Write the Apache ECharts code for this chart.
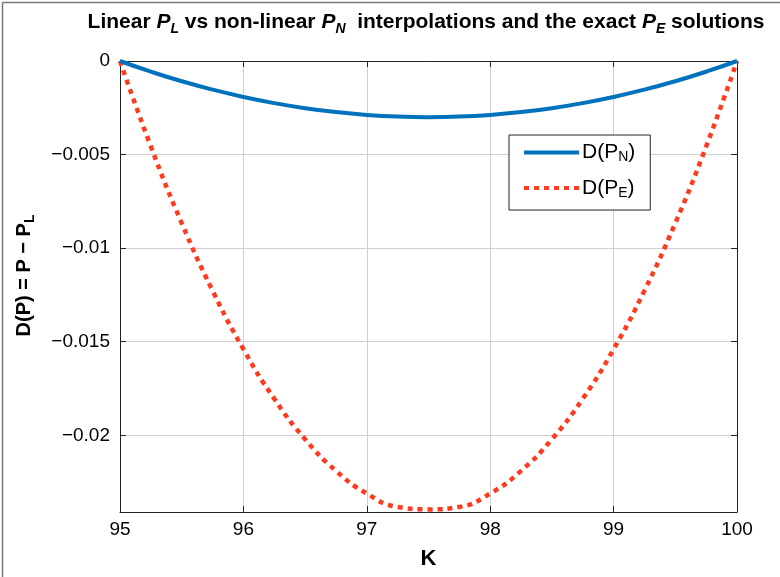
<!DOCTYPE html>
<html>
<head>
<meta charset="utf-8">
<script src="https://cdn.jsdelivr.net/npm/echarts@6/dist/echarts.min.js"></script>
<style>html,body{margin:0;padding:0;background:#fff}#c{width:780px;height:577px}</style>
</head>
<body>
<div id="c"></div>
<script>
// K values
const kValues = [95, 95.25, 95.5, 95.75, 96, 96.25, 96.5, 96.75, 97, 97.25, 97.5,
                 97.75, 98, 98.25, 98.5, 98.75, 99, 99.25, 99.5, 99.75, 100];
// D(P_N)
const dPN = [0, -0.00057, -0.00108, -0.00153, -0.00192, -0.00225, -0.00252, -0.00273, -0.00288, -0.00297, -0.00300,
             -0.00297, -0.00288, -0.00273, -0.00252, -0.00225, -0.00192, -0.00153, -0.00108, -0.00057, 0];
// D(P_E)
const dPE = [0, -0.00457, -0.00866, -0.01227, -0.01540, -0.01805, -0.02021, -0.02190, -0.02311, -0.02383, -0.02396,
             -0.02383, -0.02311, -0.02190, -0.02021, -0.01805, -0.01540, -0.01227, -0.00866, -0.00457, 0];
const xTicks = [95, 96, 97, 98, 99, 100];
const yTicks = [0, -0.005, -0.01, -0.015, -0.02];
const yMin = -0.0241, yMax = 0;

const FONT = '"Liberation Sans", Arial, Helvetica, sans-serif';
const NARROW = '"Liberation Sans Narrow", ' + FONT;
const chart = echarts.init(document.getElementById('c'));
const pair = a => kValues.map((k, i) => [k, a[i]]);
const yFmt = v => {
  const m = yTicks.find(t => Math.abs(t - v) < 1e-9);
  if (m === undefined) return '';
  return m === 0 ? '0' : '\u2212' + String(Math.abs(m));
};
const axisCommon = {
  axisLine: {show: true, onZero: false, lineStyle: {color: '#222', width: 1}},
  axisTick: {show: true, inside: true, length: 6, lineStyle: {color: '#222'}},
};
const subRich = {
  sub: {fontSize: 14, fontFamily: FONT, color: '#000', verticalAlign: 'bottom', lineHeight: 13},
  m: {fontSize: 21, fontFamily: FONT, color: '#000', lineHeight: 24}
};
chart.setOption({
  animation: false,
  backgroundColor: '#fff',
  title: {
    text: '{b|Linear }{i|P}{is|L}{b| vs non-linear }{i|P}{is|N}{b|  interpolations and the exact }{i|P}{is|E}{b| solutions}',
    left: 426, top: 9, textAlign: 'center', padding: 0,
    textStyle: {
      rich: {
        b: {fontSize: 21, fontWeight: 'bold', fontFamily: NARROW, color: '#000', lineHeight: 27},
        i: {fontSize: 21, fontWeight: 'bold', fontStyle: 'italic', fontFamily: NARROW, color: '#000', lineHeight: 27},
        is: {fontSize: 14, fontWeight: 'bold', fontStyle: 'italic', fontFamily: NARROW, color: '#000', lineHeight: 15, verticalAlign: 'bottom'}
      }
    }
  },
  grid: {left: 120, top: 61, right: 43, bottom: 65, containLabel: false},
  xAxis: [{
    type: 'value', min: 95, max: 100, interval: 1, position: 'bottom',
    ...axisCommon,
    axisLabel: {color: '#000', fontSize: 19, fontFamily: FONT, margin: 8,
      formatter: v => xTicks.includes(v) ? String(v) : ''},
    splitLine: {show: true, lineStyle: {color: '#cfcfcf', width: 1}},
    name: 'K', nameLocation: 'middle', nameGap: 36,
    nameTextStyle: {color: '#000', fontSize: 22, fontWeight: 'bold', fontFamily: FONT}
  }, {
    type: 'value', min: 95, max: 100, interval: 1, position: 'top',
    ...axisCommon, axisLabel: {show: false}, splitLine: {show: false}
  }],
  yAxis: [{
    type: 'value', min: yMin, max: yMax, splitNumber: 5, minInterval: 0.005, maxInterval: 0.005,
    position: 'left',
    ...axisCommon,
    axisLabel: {color: '#000', fontSize: 19, fontFamily: FONT, margin: 10, formatter: yFmt},
    splitLine: {show: true, lineStyle: {color: '#cfcfcf', width: 1}},
    name: '{n|D(P) = P \u2212 P}{s|L}', nameLocation: 'middle', nameRotate: 90, nameGap: 83,
    nameTextStyle: {
      padding: [0, 0, 0, 22],
      rich: {
        n: {fontSize: 20, fontWeight: 'bold', fontFamily: FONT, color: '#000', lineHeight: 26},
        s: {fontSize: 14, fontWeight: 'bold', fontFamily: FONT, color: '#000', lineHeight: 15, verticalAlign: 'bottom'}
      }
    }
  }, {
    type: 'value', min: yMin, max: yMax, splitNumber: 5, minInterval: 0.005, maxInterval: 0.005,
    position: 'right',
    ...axisCommon, axisLabel: {show: false}, splitLine: {show: false}
  }],
  legend: {
    orient: 'vertical', left: 509, top: 135,
    backgroundColor: '#fff', borderColor: '#222', borderWidth: 1, borderRadius: 0,
    padding: [7, 15, 10, 13], itemGap: 13, itemWidth: 55, itemHeight: 14,
    itemStyle: {opacity: 0},
    lineStyle: {width: 4},
    data: ['D(PN)', 'D(PE)'],
    formatter: n => n === 'D(PN)' ? '{m|D(P}{sub|N}{m|)}' : '{m|D(P}{sub|E}{m|)}',
    textStyle: {color: '#000', fontSize: 21, fontFamily: FONT, padding: [0, 0, 0, -2], rich: subRich}
  },
  graphic: [
    {type: 'line', shape: {x1: 2.5, y1: 2.5, x2: 2.5, y2: 577}, style: {stroke: '#7a7a7a', lineWidth: 1.5}, silent: true},
    {type: 'line', shape: {x1: 2.5, y1: 2.5, x2: 780, y2: 2.5}, style: {stroke: '#7a7a7a', lineWidth: 1.5}, silent: true}
  ],
  series: [{
    name: 'D(PN)', type: 'line', data: pair(dPN), smooth: true, symbol: 'none',
    lineStyle: {color: '#0072BD', width: 4}, itemStyle: {color: '#0072BD'}, z: 3
  }, {
    name: 'D(PE)', type: 'line', data: pair(dPE), smooth: true, symbol: 'none',
    lineStyle: {color: '#FF3B1D', width: 4.5, type: [5, 5], cap: 'butt'}, itemStyle: {color: '#FF3B1D'}, z: 2
  }]
});
</script>
</body>
</html>
